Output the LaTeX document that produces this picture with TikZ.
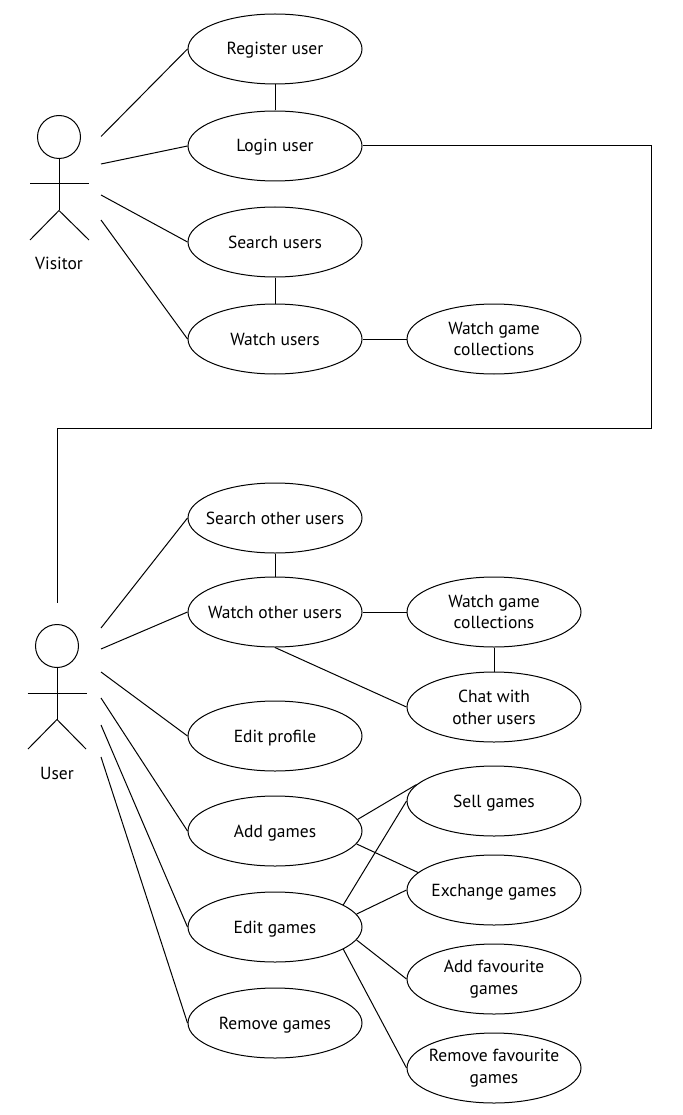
\documentclass[tikz,border=0pt]{standalone}
\usepackage{fontspec}
\setmainfont{PT Sans}
\usetikzlibrary{shapes.geometric}
\tikzset{
  usecase/.style={draw,ellipse,minimum width=174pt,minimum height=70pt,inner sep=-40pt,align=center,font=\fontsize{17.5}{21.8}\selectfont,line width=1pt},
  single/.style={text height=15pt,text depth=3pt},
  link/.style={line width=1pt,black},
  actorline/.style={line width=1pt,black},
  actorlabel/.style={font=\fontsize{17.5}{20}\selectfont,inner sep=0pt}
}
\begin{document}
\begin{tikzpicture}[x=1pt,y=-1pt]
\useasboundingbox (0,0) rectangle (682,1115);
% use cases
\node[usecase,single] (reg) at (275,49) {Register user};
\node[usecase,single] (login) at (275,146) {Login user};
\node[usecase,single] (search) at (275,242) {Search users};
\node[usecase,single] (watch) at (275,339) {Watch users};
\node[usecase] (wgc) at (494,339) {Watch game\\collections};
\node[usecase,single] (soth) at (275,518) {Search other users};
\node[usecase,single] (woth) at (275,612) {Watch other users};
\node[usecase] (wgc2) at (494,612) {Watch game\\collections};
\node[usecase] (chat) at (494,707) {Chat with\\other users};
\node[usecase,single] (prof) at (275,736) {Edit profile};
\node[usecase,single] (add) at (275,831) {Add games};
\node[usecase,single] (edit) at (275,927) {Edit games};
\node[usecase,single] (rem) at (275,1023) {Remove games};
\node[usecase,single] (sell) at (494,801) {Sell games};
\node[usecase,single] (exch) at (494,890) {Exchange games};
\node[usecase] (afav) at (494,979) {Add favourite\\games};
\node[usecase] (rfav) at (494,1068) {Remove favourite\\games};
% actors
\node[draw,circle,line width=1pt,minimum size=43pt,inner sep=0pt] (vhead) at (59,137) {};
\coordinate (vhip) at (59,210.5);
\coordinate (vla) at (30,184); \coordinate (vra) at (89,184);
\coordinate (vll) at (30,240); \coordinate (vrl) at (89,240);
\draw[actorline] (vhead.south) -- (vhip);
\draw[actorline] (vla) -- (vra);
\draw[actorline] (vll) -- (vhip) -- (vrl);
\node[actorlabel] (vlabel) at (59,263) {Visitor};
\node[draw,circle,line width=1pt,minimum size=43pt,inner sep=0pt] (uhead) at (57,646) {};
\coordinate (uhip) at (57,719.5);
\coordinate (ula) at (27.5,693); \coordinate (ura) at (86.5,693);
\coordinate (ull) at (28,749); \coordinate (url) at (86,749);
\draw[actorline] (uhead.south) -- (uhip);
\draw[actorline] (ula) -- (ura);
\draw[actorline] (ull) -- (uhip) -- (url);
\node[actorlabel] (ulabel) at (57,773) {User};
% free ends
\coordinate (v1) at (101,136.5); \coordinate (v2) at (101,164);
\coordinate (v3) at (101,195); \coordinate (v4) at (101,220);
\coordinate (u1) at (101,628); \coordinate (u2) at (101,649);
\coordinate (u3) at (101,672); \coordinate (u4) at (101,698);
\coordinate (u5) at (101,725); \coordinate (u6) at (101,757);
\coordinate (utop) at (57,603);
% connectors
\draw[link] (v1) -- (reg.west);
\draw[link] (v2) -- (login.west);
\draw[link] (v3) -- (search.west);
\draw[link] (v4) -- (watch.west);
\draw[link] (reg) -- (login);
\draw[link] (search) -- (watch);
\draw[link] (watch) -- (wgc);
\draw[link] (login.east) -- (651,146) -- (651,428) -- (57,428) -- (utop);
\draw[link] (u1) -- (soth.west);
\draw[link] (u2) -- (woth.west);
\draw[link] (u3) -- (prof.west);
\draw[link] (u4) -- (add.west);
\draw[link] (u5) -- (edit.west);
\draw[link] (u6) -- (rem.west);
\draw[link] (soth) -- (woth);
\draw[link] (woth) -- (wgc2);
\draw[link] (wgc2) -- (chat);
\draw[link] (woth.south) -- (chat.west);
\draw[link] (add.8) -- (sell.168);
\draw[link] (add.-9) -- (exch.167);
\draw[link] (edit.18) -- (sell.west);
\draw[link] (edit.9) -- (exch.west);
\draw[link] (edit.-9) -- (afav.west);
\draw[link] (edit.-18) -- (rfav.west);
\end{tikzpicture}
\end{document}
